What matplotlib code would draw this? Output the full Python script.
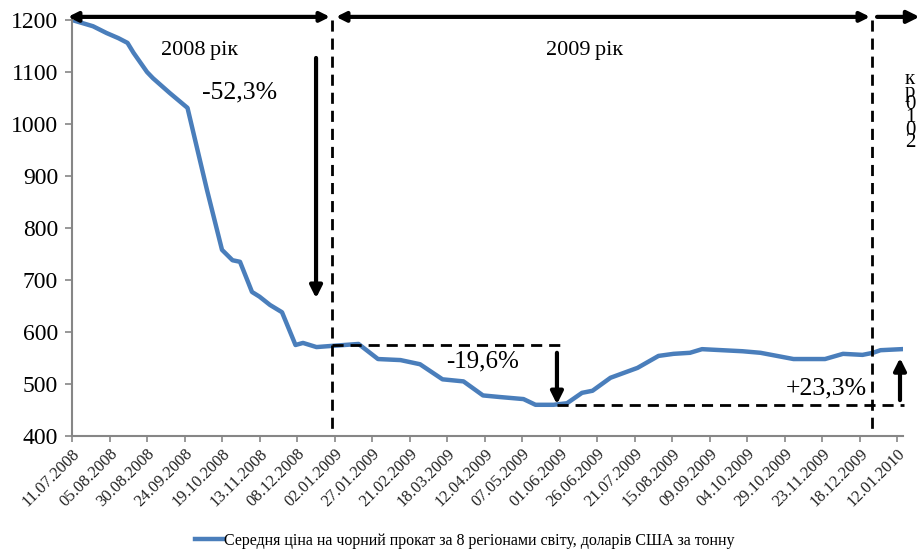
import matplotlib
matplotlib.use("Agg")
import matplotlib.pyplot as plt

plt.rcParams["font.family"] = ["Liberation Serif", "DejaVu Serif"]

# середня ціна, дол./т; x — кількість днів від 11.07.2008
days = [0, 14, 23, 31, 37, 41, 50, 54, 65, 77, 90, 100, 107, 112, 120, 125, 132, 140,
        149, 154, 163, 172, 191, 204, 219, 232, 247, 261, 274, 285, 301, 309, 321, 330,
        340, 347, 359, 377, 391, 401, 412, 420, 447, 459, 481, 502, 514, 527, 534, 539, 553]
price = [1200, 1188, 1175, 1165, 1156, 1137, 1100, 1088, 1060, 1031, 873, 758, 738, 735, 677, 668, 652, 638,
         575, 579, 571, 573, 577, 548, 546, 538, 509, 505, 478, 475, 471, 460, 460, 463,
         483, 487, 512, 531, 554, 558, 560, 567, 563, 560, 548, 548, 558, 556, 560, 565, 567]

tick_days = list(range(0, 551, 25))
tick_labels = ["11.07.2008", "05.08.2008", "30.08.2008", "24.09.2008", "19.10.2008", "13.11.2008",
               "08.12.2008", "02.01.2009", "27.01.2009", "21.02.2009", "18.03.2009", "12.04.2009",
               "07.05.2009", "01.06.2009", "26.06.2009", "21.07.2009", "15.08.2009", "09.09.2009",
               "04.10.2009", "29.10.2009", "23.11.2009", "18.12.2009", "12.01.2010"]
y_ticks = list(range(400, 1201, 100))

legend_label = "Середня ціна на чорний прокат за 8 регіонами світу, доларів США за тонну"

fig = plt.figure(figsize=(9.19, 5.5), dpi=100)
ax = fig.add_axes([72 / 919, 1 - 436 / 550, (903 - 72) / 919, 416 / 550])

line, = ax.plot(days, price, color="#4a7ebb", lw=3.2, solid_joinstyle="round")

ax.set_xlim(0, 554)
ax.set_ylim(400, 1200)
ax.set_yticks(y_ticks)
ax.set_xticks(tick_days)
ax.set_xticklabels(tick_labels, rotation=45, ha="right", rotation_mode="anchor",
                   fontsize=12, color="#222222")
ax.tick_params(axis="y", labelsize=17, length=5, width=1.2, color="#868686", pad=5)
ax.tick_params(axis="x", length=4, width=1.2, color="#868686", pad=3)
for side in ("top", "right"):
    ax.spines[side].set_visible(False)
for side in ("left", "bottom"):
    ax.spines[side].set_color("#868686")
    ax.spines[side].set_linewidth(1.5)

dash = dict(color="black", lw=2.0, dashes=(4, 2.5), clip_on=False)

# межі років
ax.plot([173, 173], [1200, 400], **dash)
ax.plot([533.3, 533.3], [1200, 400], **dash)

# рівні ціни
ax.plot([173, 325.3], [575, 575], **dash)
ax.plot([323.3, 554.7], [460, 460], **dash)

two_way = dict(arrowstyle="<|-|>", color="black", lw=3, mutation_scale=14, shrinkA=0, shrinkB=0)
one_way = dict(arrowstyle="-|>", color="black", lw=3, mutation_scale=18, shrinkA=0, shrinkB=0)

ax.annotate("", xy=(172, 1206), xytext=(-2.7, 1206), arrowprops=two_way, annotation_clip=False)
ax.annotate("", xy=(532, 1206), xytext=(176, 1206), arrowprops=two_way, annotation_clip=False)
ax.annotate("", xy=(565, 1206), xytext=(536.7, 1206), arrowprops=one_way, annotation_clip=False)

ax.annotate("", xy=(162.7, 665), xytext=(162.7, 1127), arrowprops=one_way)
ax.annotate("", xy=(323.3, 461), xytext=(323.3, 560), arrowprops=one_way)
ax.annotate("", xy=(552, 550), xytext=(552, 469), arrowprops=one_way, annotation_clip=False)

ax.text(85.3, 1142, "2008\u2009рік", fontsize=16, ha="center", va="center")
ax.text(342, 1142, "2009\u2009рік", fontsize=16, ha="center", va="center")
ax.text(112, 1061, "-52,3%", fontsize=18.5, ha="center", va="center")
ax.text(274, 544, "-19,6%", fontsize=18, ha="center", va="center")
ax.text(503, 492, "+23,3%", fontsize=18.5, ha="center", va="center")
fig.text(905 / 919, 1 - 70 / 550, "к\nр\n0\n1\n0\n2", fontsize=15, ha="left", va="top",
         linespacing=0.55)

fig.legend([line], [legend_label], loc="center", bbox_to_anchor=(465 / 919, 1 - 541 / 550),
           frameon=False, fontsize=11.5, handlelength=1.7, handletextpad=0.1)

fig.savefig("out.png", dpi=100)
